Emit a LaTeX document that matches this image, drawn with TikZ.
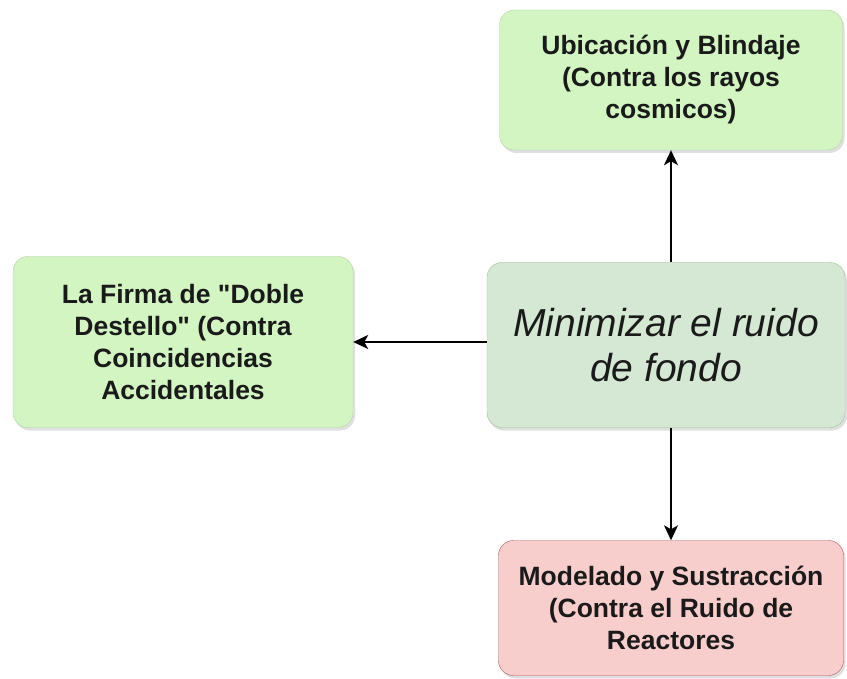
\documentclass[tikz,border=0pt]{standalone}
\usepackage{fontspec}
\setmainfont{Liberation Sans}
\usepackage{tikz}
\usetikzlibrary{arrows.meta}
\usetikzlibrary{shadows}
\usetikzlibrary{positioning}
\definecolor{BoxGreen}{HTML}{D2F5C2}
\definecolor{BoxGreenLine}{HTML}{B5D3A6}
\definecolor{MainGreen}{HTML}{D5E8D4}
\definecolor{MainGreenLine}{HTML}{9CC295}
\definecolor{BoxRed}{HTML}{F8CECC}
\definecolor{BoxRedLine}{HTML}{B85450}
\definecolor{TextDark}{HTML}{1A1A1A}

\tikzset{
  box/.style={draw, rounded corners=15pt, align=center, inner sep=0pt, text=TextDark,
    drop shadow={shadow xshift=2pt, shadow yshift=-3pt, opacity=0.25},
    font=\fontsize{26.5}{32}\selectfont\bfseries},
  goodbox/.style={box, fill=BoxGreen, draw=BoxGreenLine},
  arr/.style={-{Stealth[length=15pt, width=14pt, inset=4pt]}, line width=1.7pt, black}
}

\begin{document}
\begin{tikzpicture}[x=1pt, y=1pt]
    \useasboundingbox[fill=white] (0,0) rectangle (847,-679);
    % Center
    \node[box, fill=MainGreen, draw=MainGreenLine, minimum width=358pt, minimum height=165pt,
      font=\fontsize{39}{45}\selectfont\itshape] (ruido) at (666,-345)
      {Minimizar el ruido\\de fondo};
    % Branches
    \node[goodbox, minimum width=343pt, minimum height=140pt] (blindaje) at (671,-80)
      {Ubicación y Blindaje\\(Contra los rayos\\cosmicos)};
    \node[goodbox, minimum width=340pt, minimum height=171pt] (firma) at (183,-342)
      {La Firma de \textquotedbl Doble\\Destello\textquotedbl\ (Contra\\Coincidencias\\Accidentales};
    \node[box, fill=BoxRed, draw=BoxRedLine, minimum width=345pt, minimum height=135pt] (modelado) at (671,-608)
      {Modelado y Sustracción\\(Contra el Ruido de\\Reactores};
    % Arrows
    \draw[arr] (ruido.north -| blindaje.south) -- (blindaje.south);
    \draw[arr] (ruido.west |- firma.east) -- (firma.east);
    \draw[arr] (ruido.south -| modelado.north) -- (modelado.north);
  \end{tikzpicture}
\end{document}
